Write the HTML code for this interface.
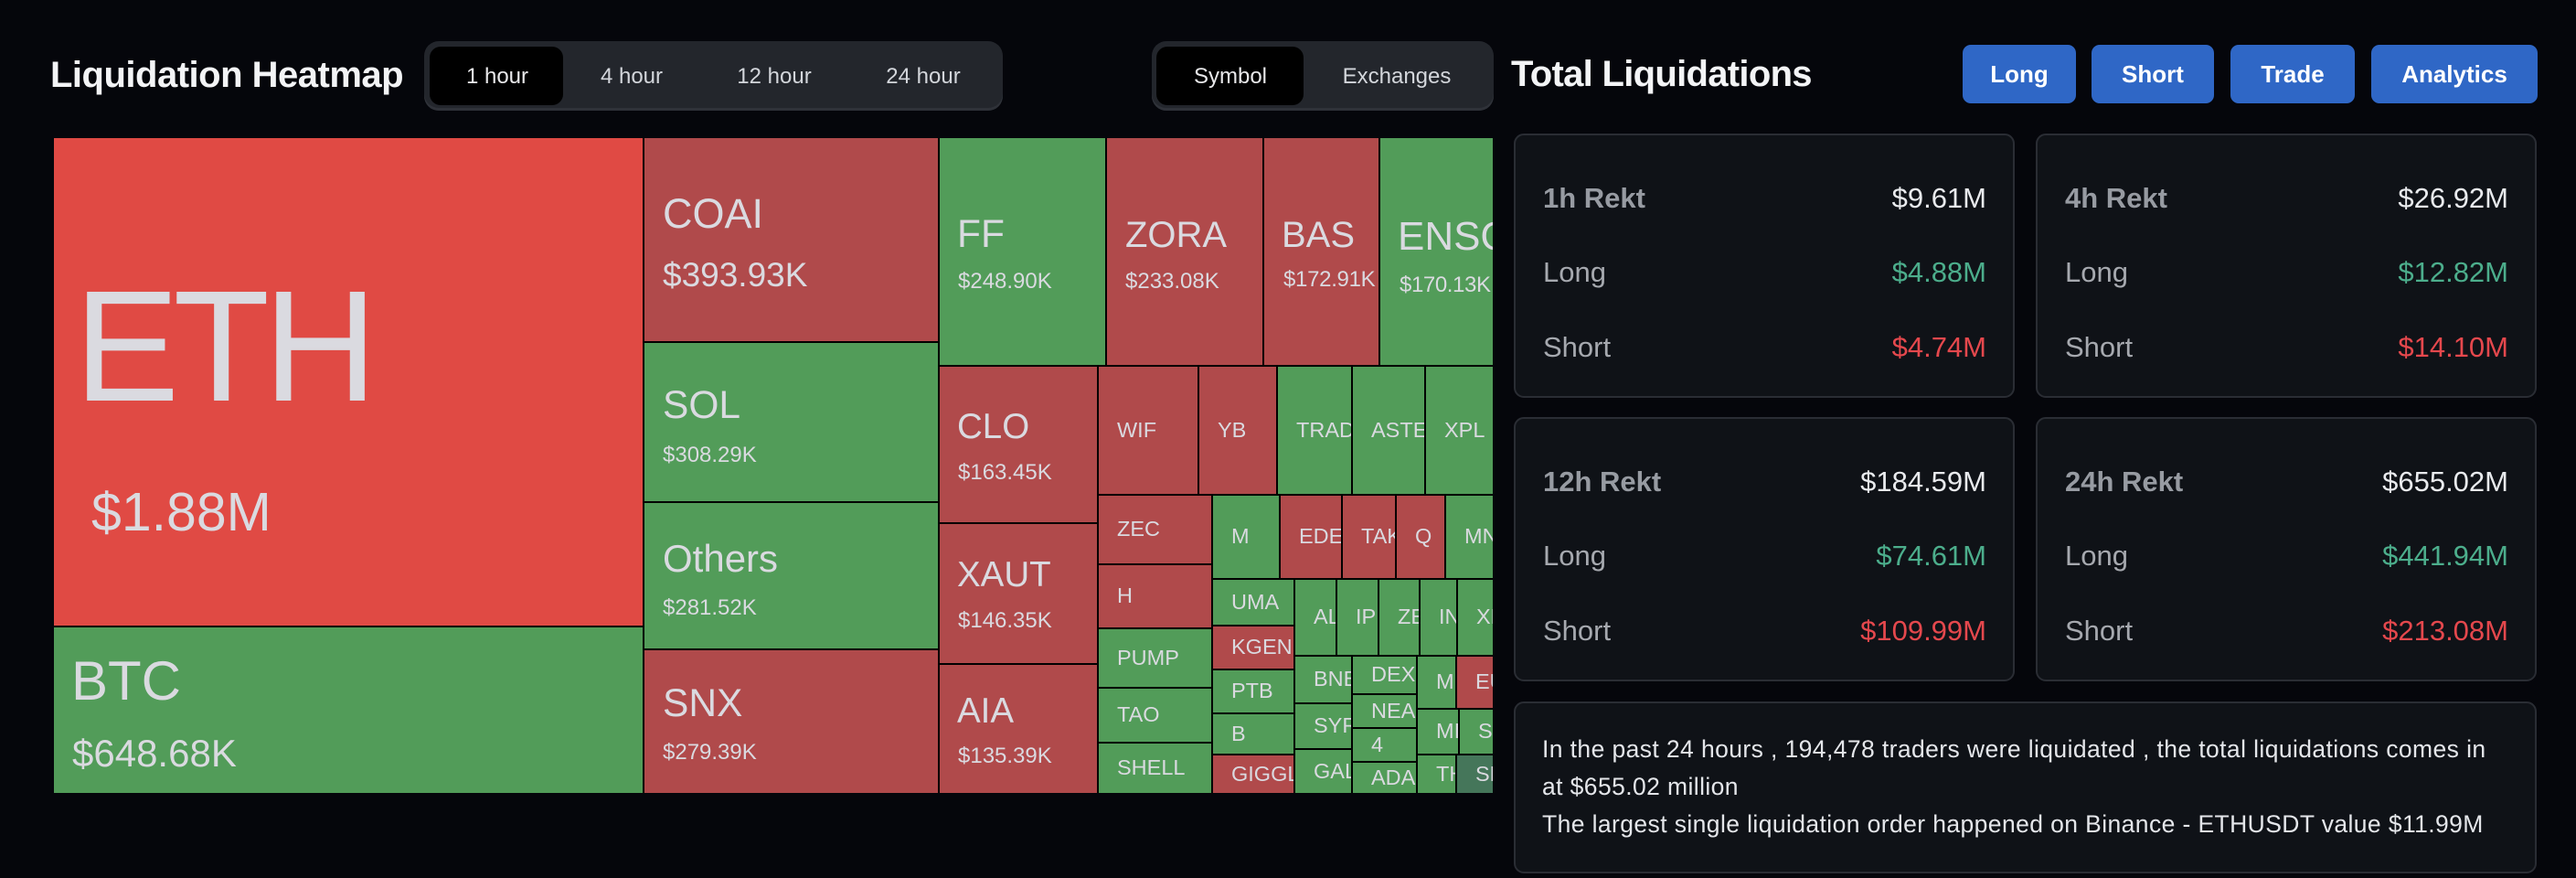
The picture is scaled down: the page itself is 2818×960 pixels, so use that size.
<!DOCTYPE html>
<html><head><meta charset="utf-8"><style>
html,body{margin:0;padding:0;}
body{width:2818px;height:960px;background:#05060b;overflow:hidden;position:relative;font-family:"Liberation Sans",Arial,sans-serif;}
.a{position:absolute;}
.t{position:absolute;overflow:hidden;}
.r{background:#b04a4b;}
.g{background:#529c59;}
.l{position:absolute;line-height:1;white-space:nowrap;color:#dadae0;}
.s{position:absolute;overflow:hidden;display:flex;align-items:center;padding-left:20px;box-sizing:border-box;font-size:23.5px;line-height:1;color:#dadae0;white-space:nowrap;}
.tab{position:absolute;width:160px;text-align:center;font-size:24px;line-height:1;color:#d3d6db;top:72px;}
.btn{position:absolute;top:49px;height:64px;background:#2f67c6;border-radius:9px;color:#fff;font-weight:bold;font-size:26px;display:flex;align-items:center;justify-content:center;}
.card{position:absolute;width:548px;height:289px;box-sizing:border-box;border:2px solid #2a2d34;background:#0f1217;border-radius:11px;}
.cl{position:absolute;left:30px;font-size:31px;line-height:1;color:#a6a9af;white-space:nowrap;}
.cv{position:absolute;right:29px;font-size:31px;line-height:1;white-space:nowrap;}
.w{color:#e9ebee;}.gr{color:#4cae8c;}.rd{color:#e5484d;}
</style></head><body>

<!-- Header left -->
<div class="a" style="left:55px;top:62px;font-size:40px;font-weight:bold;line-height:1;color:#f3f4f6;letter-spacing:-0.5px;white-space:nowrap;">Liquidation Heatmap</div>
<div class="a" style="left:464px;top:45px;width:633px;height:76px;background:#23262c;border-radius:16px;box-shadow:inset 0 -3px 0 #2f3239;"></div>
<div class="a" style="left:470px;top:51px;width:146px;height:64px;background:#000;border-radius:12px;"></div>
<div class="tab" style="left:464px;color:#e8e8ea;">1 hour</div>
<div class="tab" style="left:611px;">4 hour</div>
<div class="tab" style="left:767px;">12 hour</div>
<div class="tab" style="left:930px;">24 hour</div>

<div class="a" style="left:1260px;top:45px;width:374px;height:76px;background:#23262c;border-radius:16px;box-shadow:inset 0 -3px 0 #2f3239;"></div>
<div class="a" style="left:1265px;top:51px;width:161px;height:64px;background:#000;border-radius:12px;"></div>
<div class="tab" style="left:1266px;color:#e8e8ea;">Symbol</div>
<div class="tab" style="left:1448px;">Exchanges</div>

<!-- Heatmap -->
<div class="a" style="left:59px;top:151px;width:1574px;height:716px;background:#000;"></div>

<div class="t" style="left:59px;top:151px;width:644px;height:533px;background:#e04a44;">
  <div class="l" style="left:22px;top:140.6px;font-size:173px;letter-spacing:-7px;">ETH</div>
  <div class="l" style="left:41px;top:380px;font-size:59px;">$1.88M</div>
</div>
<div class="t g" style="left:59px;top:686px;width:644px;height:181px;">
  <div class="l" style="left:19px;top:29px;font-size:60px;">BTC</div>
  <div class="l" style="left:20px;top:117px;font-size:42px;">$648.68K</div>
</div>
<div class="t r" style="left:705px;top:151px;width:321px;height:222px;">
  <div class="l" style="left:20px;top:60px;font-size:45px;">COAI</div>
  <div class="l" style="left:20px;top:131px;font-size:37px;">$393.93K</div>
</div>
<div class="t g" style="left:705px;top:375px;width:321px;height:173px;">
  <div class="l" style="left:20px;top:48px;font-size:42.5px;">SOL</div>
  <div class="l" style="left:20px;top:110.7px;font-size:24px;">$308.29K</div>
</div>
<div class="t g" style="left:705px;top:550px;width:321px;height:159px;">
  <div class="l" style="left:20px;top:40.4px;font-size:42px;">Others</div>
  <div class="l" style="left:20px;top:102.7px;font-size:24px;">$281.52K</div>
</div>
<div class="t r" style="left:705px;top:711px;width:321px;height:156px;">
  <div class="l" style="left:20px;top:38px;font-size:42.5px;">SNX</div>
  <div class="l" style="left:20px;top:99.7px;font-size:24px;">$279.39K</div>
</div>
<div class="t g" style="left:1028px;top:151px;width:181px;height:248px;">
  <div class="l" style="left:19px;top:85px;font-size:42.5px;">FF</div>
  <div class="l" style="left:20px;top:144.7px;font-size:24px;">$248.90K</div>
</div>
<div class="t r" style="left:1211px;top:151px;width:170px;height:248px;">
  <div class="l" style="left:20px;top:86px;font-size:40px;">ZORA</div>
  <div class="l" style="left:20px;top:144.7px;font-size:24px;">$233.08K</div>
</div>
<div class="t r" style="left:1383px;top:151px;width:125px;height:248px;">
  <div class="l" style="left:19px;top:86px;font-size:40px;">BAS</div>
  <div class="l" style="left:21px;top:142.7px;font-size:24px;letter-spacing:-0.3px;">$172.91K</div>
</div>
<div class="t g" style="left:1510px;top:151px;width:123px;height:248px;">
  <div class="l" style="left:19px;top:85.8px;font-size:44px;">ENSO</div>
  <div class="l" style="left:21px;top:148.7px;font-size:24px;letter-spacing:-0.4px;">$170.13K</div>
</div>
<div class="t r" style="left:1028px;top:401px;width:172px;height:170px;">
  <div class="l" style="left:19px;top:47.4px;font-size:38.5px;">CLO</div>
  <div class="l" style="left:20px;top:103.7px;font-size:24px;">$163.45K</div>
</div>
<div class="t r" style="left:1028px;top:573px;width:172px;height:152px;">
  <div class="l" style="left:19px;top:37.4px;font-size:38.5px;">XAUT</div>
  <div class="l" style="left:20px;top:93.7px;font-size:24px;">$146.35K</div>
</div>
<div class="t r" style="left:1028px;top:727px;width:172px;height:140px;">
  <div class="l" style="left:19px;top:32.4px;font-size:38.5px;">AIA</div>
  <div class="l" style="left:20px;top:87.7px;font-size:24px;">$135.39K</div>
</div>

<div class="s r" style="left:1202px;top:401px;width:108px;height:139px;">WIF</div>
<div class="s r" style="left:1312px;top:401px;width:84px;height:139px;">YB</div>
<div class="s g" style="left:1398px;top:401px;width:80px;height:139px;">TRADOOR</div>
<div class="s g" style="left:1480px;top:401px;width:78px;height:139px;">ASTER</div>
<div class="s g" style="left:1560px;top:401px;width:73px;height:139px;">XPL</div>
<div class="s r" style="left:1202px;top:542px;width:123px;height:74px;">ZEC</div>
<div class="s r" style="left:1202px;top:618px;width:123px;height:68px;">H</div>
<div class="s g" style="left:1202px;top:688px;width:123px;height:63px;">PUMP</div>
<div class="s g" style="left:1202px;top:753px;width:123px;height:58px;">TAO</div>
<div class="s g" style="left:1202px;top:813px;width:123px;height:54px;">SHELL</div>
<div class="s g" style="left:1327px;top:542px;width:72px;height:90px;">M</div>
<div class="s r" style="left:1401px;top:542px;width:66px;height:90px;">EDEN</div>
<div class="s r" style="left:1469px;top:542px;width:57px;height:90px;">TAKE</div>
<div class="s r" style="left:1528px;top:542px;width:52px;height:90px;">Q</div>
<div class="s g" style="left:1582px;top:542px;width:51px;height:90px;">MNT</div>
<div class="s g" style="left:1327px;top:634px;width:88px;height:49px;">UMA</div>
<div class="s r" style="left:1327px;top:685px;width:88px;height:46px;">KGEN</div>
<div class="s g" style="left:1327px;top:733px;width:88px;height:46px;">PTB</div>
<div class="s g" style="left:1327px;top:781px;width:88px;height:43px;">B</div>
<div class="s r" style="left:1327px;top:826px;width:88px;height:41px;">GIGGLE</div>
<div class="s g" style="left:1417px;top:634px;width:44px;height:82px;">ALCH</div>
<div class="s g" style="left:1463px;top:634px;width:44px;height:82px;">IP</div>
<div class="s g" style="left:1509px;top:634px;width:43px;height:82px;">ZEN</div>
<div class="s g" style="left:1554px;top:634px;width:39px;height:82px;">INJ</div>
<div class="s g" style="left:1595px;top:634px;width:38px;height:82px;">XLM</div>
<div class="s g" style="left:1417px;top:718px;width:61px;height:50px;">BNB</div>
<div class="s g" style="left:1417px;top:770px;width:61px;height:48px;">SYRUP</div>
<div class="s g" style="left:1417px;top:820px;width:61px;height:47px;">GALA</div>
<div class="s g" style="left:1480px;top:718px;width:69px;height:40px;">DEXE</div>
<div class="s g" style="left:1480px;top:760px;width:69px;height:35px;">NEAR</div>
<div class="s g" style="left:1480px;top:797px;width:69px;height:35px;">4</div>
<div class="s g" style="left:1480px;top:834px;width:69px;height:33px;">ADA</div>
<div class="s g" style="left:1551px;top:718px;width:41px;height:56px;">MET</div>
<div class="s r" style="left:1594px;top:718px;width:39px;height:56px;">EUL</div>
<div class="s g" style="left:1551px;top:776px;width:44px;height:48px;">MIRA</div>
<div class="s g" style="left:1597px;top:776px;width:36px;height:48px;">SUI</div>
<div class="s g" style="left:1551px;top:826px;width:41px;height:41px;">THE</div>
<div class="s" style="left:1594px;top:826px;width:39px;height:41px;background:#45765a;">SHIB</div>

<!-- Right panel -->
<div class="a" style="left:1653px;top:61px;font-size:40px;font-weight:bold;line-height:1;color:#f3f4f6;letter-spacing:-0.7px;white-space:nowrap;">Total Liquidations</div>
<div class="btn" style="left:2147px;width:124px;">Long</div>
<div class="btn" style="left:2288px;width:134px;">Short</div>
<div class="btn" style="left:2440px;width:136px;">Trade</div>
<div class="btn" style="left:2594px;width:182px;">Analytics</div>

<div class="card" style="left:1656px;top:146px;">
  <div class="cl" style="top:52.5px;font-weight:bold;color:#979ba2;">1h Rekt</div><div class="cv w" style="top:52.5px;">$9.61M</div>
  <div class="cl" style="top:134px;">Long</div><div class="cv gr" style="top:134px;">$4.88M</div>
  <div class="cl" style="top:215.8px;">Short</div><div class="cv rd" style="top:215.8px;">$4.74M</div>
</div>
<div class="card" style="left:2227px;top:146px;">
  <div class="cl" style="top:52.5px;font-weight:bold;color:#979ba2;">4h Rekt</div><div class="cv w" style="top:52.5px;">$26.92M</div>
  <div class="cl" style="top:134px;">Long</div><div class="cv gr" style="top:134px;">$12.82M</div>
  <div class="cl" style="top:215.8px;">Short</div><div class="cv rd" style="top:215.8px;">$14.10M</div>
</div>
<div class="card" style="left:1656px;top:456px;">
  <div class="cl" style="top:52.5px;font-weight:bold;color:#979ba2;">12h Rekt</div><div class="cv w" style="top:52.5px;">$184.59M</div>
  <div class="cl" style="top:134px;">Long</div><div class="cv gr" style="top:134px;">$74.61M</div>
  <div class="cl" style="top:215.8px;">Short</div><div class="cv rd" style="top:215.8px;">$109.99M</div>
</div>
<div class="card" style="left:2227px;top:456px;">
  <div class="cl" style="top:52.5px;font-weight:bold;color:#979ba2;">24h Rekt</div><div class="cv w" style="top:52.5px;">$655.02M</div>
  <div class="cl" style="top:134px;">Long</div><div class="cv gr" style="top:134px;">$441.94M</div>
  <div class="cl" style="top:215.8px;">Short</div><div class="cv rd" style="top:215.8px;">$213.08M</div>
</div>

<div class="card" style="left:1656px;top:767px;width:1119px;height:188px;">
  <div class="a" style="left:29px;top:29.5px;font-size:26.5px;line-height:41px;letter-spacing:0.4px;color:#e4e6ea;white-space:nowrap;">In the past 24 hours , 194,478 traders were liquidated , the total liquidations comes in<br>at $655.02 million<br>The largest single liquidation order happened on Binance - ETHUSDT value $11.99M</div>
</div>

</body></html>
